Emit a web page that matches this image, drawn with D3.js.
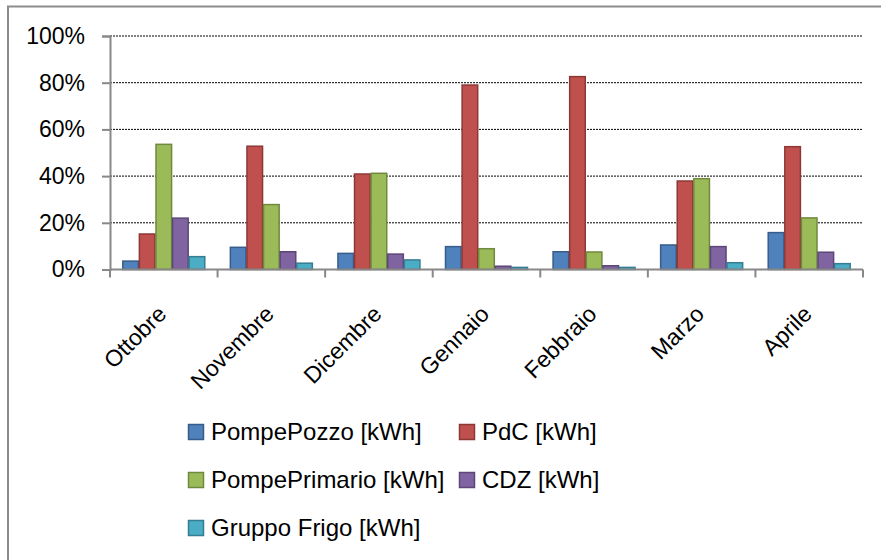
<!DOCTYPE html>
<html>
<head>
<meta charset="utf-8">
<script src="https://cdn.jsdelivr.net/npm/d3@7"></script>
<style>
  body { margin: 0; background: #fff; }
  svg { display: block; }
  text { font-family: "Liberation Sans", Arial, sans-serif; fill: #000; }
</style>
</head>
<body>
<svg id="chart" width="881" height="560"></svg>
<script>
// Monthly share of energy use per consumer group
const months = ["Ottobre", "Novembre", "Dicembre", "Gennaio", "Febbraio", "Marzo", "Aprile"];
const seriesNames = ["PompePozzo [kWh]", "PdC [kWh]", "PompePrimario [kWh]", "CDZ [kWh]", "Gruppo Frigo [kWh]"];
const pompePozzo    = [3.6, 9.5, 6.9, 9.8, 7.6, 10.5, 15.8];
const pdc           = [15.2, 52.8, 40.9, 79.0, 82.6, 37.9, 52.6];
const pompePrimario = [53.6, 27.8, 41.2, 8.9, 7.5, 38.9, 22.1];
const cdz           = [22.0, 7.6, 6.6, 1.4, 1.6, 9.8, 7.4];
const gruppoFrigo   = [5.5, 2.7, 4.1, 0.9, 0.9, 2.9, 2.5];
const yTicks = [0, 20, 40, 60, 80, 100];

const fills   = ["#4F81BD", "#C0504D", "#9BBB59", "#8064A2", "#4BACC6"];
const strokes = ["#385D8A", "#8C3836", "#71893F", "#5C4776", "#357D91"];

const seriesValues = [pompePozzo, pdc, pompePrimario, cdz, gruppoFrigo];
const FONT_SIZE = 23;
const LEGEND_FONT_SIZE = 24;

const svg = d3.select("#chart");

// chart area frame
svg.append("rect")
  .attr("x", 8).attr("y", 6.5)
  .attr("width", 900).attr("height", 600)
  .attr("fill", "none").attr("stroke", "#8c8c8c").attr("stroke-width", 2);

const plot = { left: 110, right: 863, top: 36, bottom: 269.5 };

const x = d3.scaleBand().domain(months).range([plot.left, plot.right]).paddingInner(0).paddingOuter(0);
const xInner = d3.scaleBand().domain(d3.range(seriesNames.length))
  .range([0, x.bandwidth()]).paddingOuter(0.74).paddingInner(0);
const y = d3.scaleLinear().domain([0, 100]).range([plot.bottom, plot.top]);

// horizontal gridlines
svg.append("g").selectAll("line")
  .data(yTicks.filter(d => d > 0))
  .join("line")
  .attr("x1", plot.left).attr("x2", plot.right)
  .attr("y1", d => y(d)).attr("y2", d => y(d))
  .attr("stroke", "#000").attr("stroke-width", 1)
  .attr("stroke-dasharray", "2,1");

// bars
const groups = svg.append("g").selectAll("g")
  .data(months)
  .join("g")
  .attr("transform", m => `translate(${x(m)},0)`);

groups.selectAll("rect")
  .data((m, i) => seriesValues.map((vals, s) => ({ s, v: vals[i] })))
  .join("rect")
  .attr("x", d => xInner(d.s) + 0.5)
  .attr("width", xInner.bandwidth() - 1)
  .attr("y", d => y(d.v))
  .attr("height", d => y(0) - y(d.v))
  .attr("fill", d => fills[d.s])
  .attr("stroke", d => strokes[d.s])
  .attr("stroke-width", 1.5);

// y axis
const yAxis = d3.axisLeft(y).tickValues(yTicks).tickSize(8).tickFormat(d => d + "%");
const gy = svg.append("g").attr("transform", `translate(${plot.left},0)`).call(yAxis);
gy.select(".domain").attr("stroke", "#888").attr("stroke-width", 2);
gy.selectAll(".tick line").attr("stroke", "#888").attr("stroke-width", 2);
gy.selectAll(".tick text")
  .attr("font-size", FONT_SIZE).attr("font-family", "Liberation Sans, Arial, sans-serif")
  .attr("fill", "#000").attr("x", -25);

// x axis: tick marks at band boundaries
svg.append("line")
  .attr("x1", plot.left).attr("x2", plot.right)
  .attr("y1", plot.bottom).attr("y2", plot.bottom)
  .attr("stroke", "#888").attr("stroke-width", 2);
const boundaries = months.map(m => x(m)).concat([plot.right]);
svg.append("g").selectAll("line")
  .data(boundaries)
  .join("line")
  .attr("x1", d => d).attr("x2", d => d)
  .attr("y1", plot.bottom).attr("y2", plot.bottom + 8)
  .attr("stroke", "#888").attr("stroke-width", 2);

// rotated month labels
svg.append("g").selectAll("text")
  .data(months)
  .join("text")
  .attr("text-anchor", "end")
  .attr("font-size", FONT_SIZE)
  .attr("transform", m => `translate(${x(m) + x.bandwidth() / 2 + 4},${plot.bottom + 46}) rotate(-45)`)
  .text(m => m);

// legend
const legendPos = [
  { x: 188, y: 432 }, { x: 459, y: 432 },
  { x: 188, y: 480 }, { x: 459, y: 480 },
  { x: 188, y: 528 }
];
const legend = svg.append("g").selectAll("g")
  .data(seriesNames)
  .join("g")
  .attr("transform", (d, i) => `translate(${legendPos[i].x},${legendPos[i].y})`);
legend.append("rect")
  .attr("x", 0.5).attr("y", -7.5).attr("width", 15).attr("height", 15)
  .attr("fill", (d, i) => fills[i]).attr("stroke", (d, i) => strokes[i]).attr("stroke-width", 1.5);
legend.append("text")
  .attr("x", 23).attr("y", 0).attr("dy", "0.35em")
  .attr("font-size", LEGEND_FONT_SIZE)
  .text(d => d);
</script>
</body>
</html>
